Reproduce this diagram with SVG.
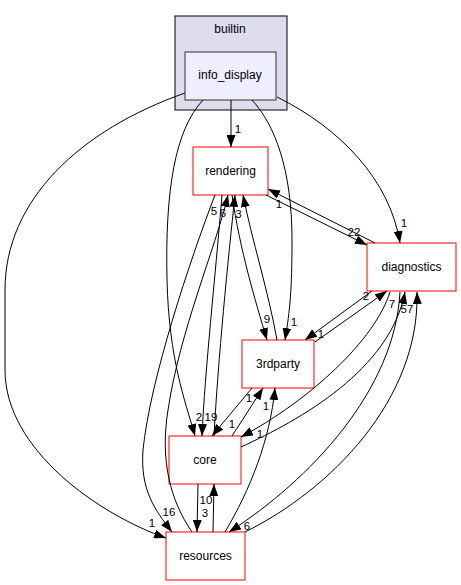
<svg xmlns="http://www.w3.org/2000/svg" width="461" height="585" viewBox="0 0 461 585">
<style>
text{font-family:"Liberation Sans",Arial,sans-serif;font-size:12px;fill:#000;text-anchor:middle}
.n{fill:#fff;stroke:#ff0000;stroke-width:1}
.e path{fill:none;stroke:#000;stroke-width:1;marker-end:url(#a)}
.e text{font-size:11.5px;fill:#000}
</style>
<defs>
<marker id="a" viewBox="0 0 12 9" refX="12" refY="4.5" markerWidth="12" markerHeight="9" orient="auto" markerUnits="userSpaceOnUse"><path d="M0,0L12,4.5L0,9z" fill="#000"/></marker>
</defs>
<rect width="461" height="585" fill="#fff"/>
<g id="cluster_builtin">
<rect x="175" y="16" width="112" height="94" fill="#ddddee" stroke="#000"/>
<text x="230" y="33">builtin</text>
</g>
<g id="info_display">
<rect x="185" y="52" width="91" height="48" fill="#eeeeff" stroke="#333"/>
<text x="230" y="79">info_display</text>
</g>
<g id="rendering">
<rect class="n" x="193" y="147" width="75" height="48"/>
<text x="230.5" y="175">rendering</text>
</g>
<g id="diagnostics">
<rect class="n" x="367" y="243" width="89" height="48"/>
<text x="411.5" y="271">diagnostics</text>
</g>
<g id="3rdparty">
<rect class="n" x="242" y="340" width="72" height="48"/>
<text x="278" y="368">3rdparty</text>
</g>
<g id="core">
<rect class="n" x="169" y="436" width="72" height="48"/>
<text x="205" y="464">core</text>
</g>
<g id="resources">
<rect class="n" x="166" y="532" width="79" height="48"/>
<text x="205.5" y="560">resources</text>
</g>
<g id="edges" class="e">
<path d="M231,100 L231,147"/>
<path d="M277,97 C340,128 390,180 400,243"/>
<path d="M185,93 C80,130 5,200 5,290 L5,370 C5,450 100,515 166,538"/>
<path d="M203,100 C175,130 165,190 167,280 C169,360 185,400 195,436"/>
<path d="M252,100 C275,125 292,170 292,240 C292,290 290,310 285,340"/>
<path d="M266,195 L367,245"/>
<path d="M375,243 L268,189"/>
<path d="M232,195 C240,250 255,300 267,340"/>
<path d="M277,340 C268,290 252,240 243,195"/>
<path d="M222,195 C215,280 205,370 202,436"/>
<path d="M214,436 C218,360 228,260 235,195"/>
<path d="M215,195 C190,260 150,380 143,450 C140,490 155,510 172,532"/>
<path d="M192,532 C170,500 160,460 168,410 C180,330 215,250 228,195"/>
<path d="M315,342 L387,291"/>
<path d="M372,291 L305,340"/>
<path d="M390,292 C375,340 310,400 241,437"/>
<path d="M241,447 C300,420 390,370 405,292"/>
<path d="M400,292 C395,390 310,480 229,532"/>
<path d="M245,532 C330,490 420,400 417,292"/>
<path d="M252,388 L212,436"/>
<path d="M232,436 L263,388"/>
<path d="M225,532 C250,490 270,440 275,388"/>
<path d="M198,484 L197,532"/>
<path d="M213,532 L214,484"/>
<text x="238" y="133">1</text>
<text x="404" y="227">1</text>
<text x="152" y="527">1</text>
<text x="199" y="421">2</text>
<text x="211" y="421">19</text>
<text x="294" y="326">1</text>
<text x="354" y="236">22</text>
<text x="279" y="208">1</text>
<text x="214" y="215">5</text>
<text x="223" y="217">6</text>
<text x="238.5" y="218">3</text>
<text x="267" y="323">9</text>
<text x="366" y="300">2</text>
<text x="321" y="338">1</text>
<text x="392" y="308">7</text>
<text x="407" y="313">57</text>
<text x="232" y="428">1</text>
<text x="249" y="402">1</text>
<text x="266" y="410">1</text>
<text x="260" y="438">1</text>
<text x="206" y="504">10</text>
<text x="205" y="517">3</text>
<text x="169" y="516">16</text>
<text x="247" y="530">6</text>
</g>
</svg>
